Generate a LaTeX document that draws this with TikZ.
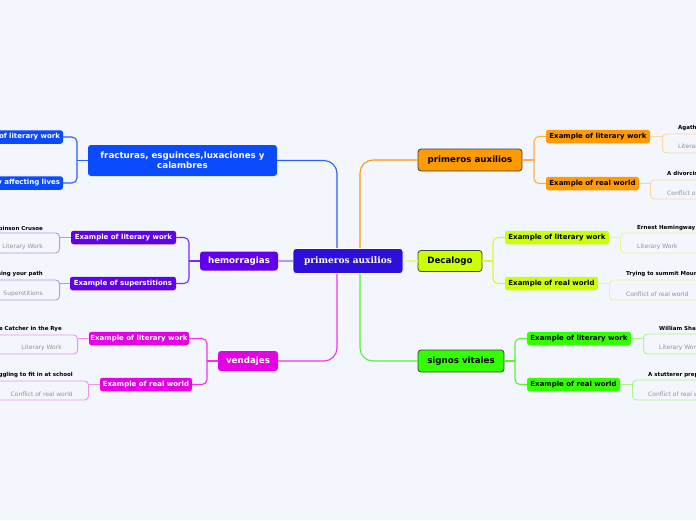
\documentclass[tikz,border=0pt]{standalone}
\usepackage{fontspec}
\setmainfont{DejaVu Sans}
\newfontfamily\serifb{DejaVu Serif}
\definecolor{bgc}{HTML}{F3F6FD}
\definecolor{cenc}{HTML}{2C10DA}
\definecolor{frc}{HTML}{0A4BFF}
\definecolor{hmc}{HTML}{6000EC}
\definecolor{vnc}{HTML}{E600E6}
\definecolor{pac}{HTML}{FF9A00}
\definecolor{dcc}{HTML}{CCFF00}
\definecolor{svc}{HTML}{33FF00}
\definecolor{frl}{HTML}{2A60FF}
\definecolor{hml}{HTML}{7A2CF0}
\definecolor{vnl}{HTML}{EE33EE}
\definecolor{pal}{HTML}{FFB040}
\definecolor{dcl}{HTML}{D8F838}
\definecolor{svl}{HTML}{55F530}
\definecolor{hmb}{HTML}{B496F4}
\definecolor{vnb}{HTML}{F090F0}
\definecolor{pab}{HTML}{FFD59A}
\definecolor{dcb}{HTML}{E6F890}
\definecolor{svb}{HTML}{A8F888}
\definecolor{grayt}{HTML}{9090A0}
\tikzset{
  mainL/.style={rounded corners=3pt, inner sep=0pt, text=white, font=\fontsize{8.7}{10}\selectfont\bfseries, align=center},
  mainR/.style={rounded corners=3pt, inner sep=0pt, text=black, draw=black!75, line width=0.8pt, font=\fontsize{8.7}{10}\selectfont\bfseries},
  subn/.style={rounded corners=2.5pt, inner sep=0pt, minimum height=13.5pt, font=\fontsize{7}{8}\selectfont\bfseries},
  leafbox/.style={draw=#1, rounded corners=4pt, line width=0.9pt, minimum height=20pt, inner sep=0pt},
  ltitle/.style={inner sep=0pt, font=\fontsize{5.5}{6}\selectfont\bfseries, text=black},
  lgray/.style={inner sep=0pt, font=\fontsize{6}{7}\selectfont, text=grayt},
  conn/.style={line width=1.1pt},
}
\begin{document}
\begin{tikzpicture}[x=1pt,y=-1pt]
\clip (0,0) rectangle (696,520);
\fill[bgc] (0,0) rectangle (696,520);
% central
\node[rounded corners=3pt, fill=cenc, draw=white, line width=0.8pt, minimum width=110pt, minimum height=25pt, text=white, font=\serifb\fontsize{9}{10}\selectfont\bfseries] (cen) at (348,261) {primeros auxilios};
% main topics
\node[mainL, fill=frc, minimum width=189pt, minimum height=31pt] (fr) at (182.5,160.5) {fracturas, esguinces,luxaciones y\\calambres};
\node[mainL, fill=hmc, minimum width=78pt, minimum height=19pt] (hem) at (239,261) {hemorragias};
\node[mainL, fill=vnc, minimum width=60pt, minimum height=20pt] (ven) at (248,361) {vendajes};
\node[mainR, fill=pac, minimum width=104pt, minimum height=22pt] (pa) at (470,160) {primeros auxilios};
\node[mainR, fill=dcc, minimum width=64pt, minimum height=21pt] (dec) at (450,261) {Decalogo};
\node[mainR, fill=svc, minimum width=86pt, minimum height=22pt] (sv) at (461,361) {signos vitales};
% center connectors
\draw[conn, frl, rounded corners=13pt] (fr.east) -| ([xshift=-11pt]cen.north);
\draw[conn, pac, rounded corners=13pt] (pa.west) -| ([xshift=12pt]cen.north);
\draw[conn, vnl, rounded corners=13pt] (ven.east) -| ([xshift=-11pt]cen.south);
\draw[conn, svl, rounded corners=13pt] (sv.west) -| ([xshift=12pt]cen.south);
\draw[conn, hmb] (hem.east) -- (cen.west);
\draw[conn, dcb] (cen.east) -- (dec.west);
% sub nodes left
\node[subn, fill=frc, text=white, minimum width=104pt, text width=98pt, align=right] (fr1) at (11,137) {Example of literary work};
\node[subn, fill=frc, text=white, minimum width=120pt, text width=114pt, align=right] (fr2) at (3,183) {y affecting lives};
\node[subn, fill=hmc, text=white, minimum width=105pt] (hem1) at (123.5,237.5) {Example of literary work};
\node[subn, fill=hmc, text=white, minimum width=106pt] (hem2) at (123,283.5) {Example of superstitions};
\node[subn, fill=vnc, text=white, minimum width=100pt] (ven1) at (139,338.5) {Example of literary work};
\node[subn, fill=vnc, text=white, minimum width=92pt] (ven2) at (146,384.5) {Example of real world};
% sub nodes right
\node[subn, fill=pac, minimum width=104pt] (pa1) at (598,136.5) {Example of literary work};
\node[subn, fill=pac, minimum width=93pt] (pa2) at (592.5,183.5) {Example of real world};
\node[subn, fill=dcc, minimum width=104pt] (dec1) at (557,237.5) {Example of literary work};
\node[subn, fill=dcc, minimum width=93pt] (dec2) at (551.5,283.5) {Example of real world};
\node[subn, fill=svc, minimum width=104pt] (sv1) at (579,338.5) {Example of literary work};
\node[subn, fill=svc, minimum width=93pt] (sv2) at (573.5,384.5) {Example of real world};
% brackets
\coordinate (frJ) at (77,160.5);
\coordinate (hemJ) at (189,261);
\coordinate (venJ) at (207,361);
\coordinate (paJ) at (534,160);
\coordinate (decJ) at (493,261);
\coordinate (svJ) at (515,361);
\draw[conn, frl] (fr.west) -- (frJ);
\draw[conn, frl, rounded corners=5pt] (fr1.east) -| (frJ) |- (fr2.east);
\draw[conn, hml] (hem.west) -- (hemJ);
\draw[conn, hml, rounded corners=5pt] (hem1.east) -| (hemJ) |- (hem2.east);
\draw[conn, vnl] (ven.west) -- (venJ);
\draw[conn, vnl, rounded corners=5pt] (ven1.east) -| (venJ) |- (ven2.east);
\draw[conn, pal] (pa.east) -- (paJ);
\draw[conn, pal, rounded corners=5pt] (pa1.west) -| (paJ) |- (pa2.west);
\draw[conn, dcl] (dec.east) -- (decJ);
\draw[conn, dcl, rounded corners=5pt] (dec1.west) -| (decJ) |- (dec2.west);
\draw[conn, svl] (sv.east) -- (svJ);
\draw[conn, svl, rounded corners=5pt] (sv1.west) -| (svJ) |- (sv2.west);
% leaves left
\node[leafbox=hmb, minimum width=160pt, anchor=east] (hl1) at (60,243) {};
\node[ltitle, anchor=east] (hl1t) at (43,228) {Robinson Crusoe};
\node[lgray, anchor=east] (hl1g) at (43,246.5) {Literary Work};
\node[leafbox=hmb, minimum width=160pt, anchor=east] (hl2) at (60,290) {};
\node[ltitle, anchor=east] (hl2t) at (43,274) {Crossing your path};
\node[lgray, anchor=east] (hl2g) at (43,294) {Superstitions};
\node[leafbox=vnb, minimum width=160pt, minimum height=19pt, anchor=east] (vl1) at (78,344.5) {};
\node[ltitle, anchor=east] (vl1t) at (62,328.5) {The Catcher in the Rye};
\node[lgray, anchor=east] (vl1g) at (62,348) {Literary Work};
\node[leafbox=vnb, minimum width=160pt, minimum height=19pt, anchor=east] (vl2) at (89,390.5) {};
\node[ltitle, anchor=east] (vl2t) at (73,375) {Struggling to fit in at school};
\node[lgray, anchor=east] (vl2g) at (73,394) {Conflict of real world};
\draw[conn, hmb] (hem1.west) -- (hem1.west -| hl1.east);
\draw[conn, hmb] (hem2.west) -- (hem2.west -| hl2.east);
\draw[conn, vnb] (ven1.west) -- (ven1.west -| vl1.east);
\draw[conn, vnb] (ven2.west) -- (ven2.west -| vl2.east);
% leaves right
\node[leafbox=pab, minimum width=160pt, minimum height=19pt, anchor=west] (pl1) at (662,143.5) {};
\node[ltitle, anchor=west] (pl1t) at (678,128) {Agatha Christie};
\node[lgray, anchor=west] (pl1g) at (678,147) {Literary Work};
\node[leafbox=pab, minimum width=160pt, minimum height=19pt, anchor=west] (pl2) at (650,189.5) {};
\node[ltitle, anchor=west] (pl2t) at (667,174) {A divorcing couple};
\node[lgray, anchor=west] (pl2g) at (667,193) {Conflict of real world};
\node[leafbox=dcb, minimum width=160pt, anchor=west] (dl1) at (620,243) {};
\node[ltitle, anchor=west] (dl1t) at (637,228) {Ernest Hemingway};
\node[lgray, anchor=west] (dl1g) at (637,247) {Literary Work};
\node[leafbox=dcb, minimum width=160pt, anchor=west] (dl2) at (609,290) {};
\node[ltitle, anchor=west] (dl2t) at (626,274) {Trying to summit Mount Everest};
\node[lgray, anchor=west] (dl2g) at (626,294) {Conflict of real world};
\node[leafbox=svb, minimum width=160pt, anchor=west] (sl1) at (643,344) {};
\node[ltitle, anchor=west] (sl1t) at (659,329) {William Shakespeare};
\node[lgray, anchor=west] (sl1g) at (659,348) {Literary Work};
\node[leafbox=svb, minimum width=160pt, anchor=west] (sl2) at (632,390) {};
\node[ltitle, anchor=west] (sl2t) at (648,375) {A stutterer preparing a speech};
\node[lgray, anchor=west] (sl2g) at (648,394) {Conflict of real world};
\draw[conn, pab] (pa1.east) -- (pa1.east -| pl1.west);
\draw[conn, pab] (pa2.east) -- (pa2.east -| pl2.west);
\draw[conn, dcb] (dec1.east) -- (dec1.east -| dl1.west);
\draw[conn, dcb] (dec2.east) -- (dec2.east -| dl2.west);
\draw[conn, svb] (sv1.east) -- (sv1.east -| sl1.west);
\draw[conn, svb] (sv2.east) -- (sv2.east -| sl2.west);
\end{tikzpicture}
\end{document}
